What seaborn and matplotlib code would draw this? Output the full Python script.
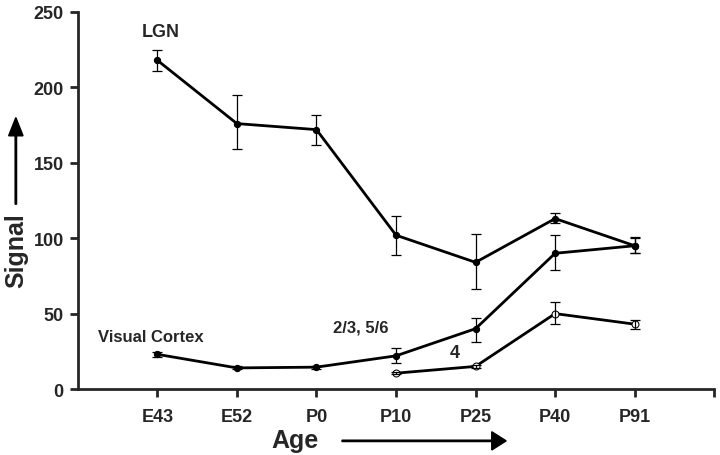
import numpy as np
import pandas as pd
import matplotlib.pyplot as plt
import seaborn as sns

ages = ['E43', 'E52', 'P0', 'P10', 'P25', 'P40', 'P91']

lgn = [218, 176, 172, 102, 84, 113, 95]
lgn_lo = [211, 159, 162, 89, 66, 110, 90]
lgn_hi = [225, 195, 182, 115, 103, 117, 100]

cortex = [23, 14, 14.5, 22, 40, 90, 95]
cortex_lo = [21.5, 13, 13.5, 17, 31, 79, 90]
cortex_hi = [24.5, 15, 15.5, 27, 47, 102, 101]

layer4_ages = ['P10', 'P25', 'P40', 'P91']
layer4 = [10.5, 15, 50, 43]
layer4_lo = [10, 14, 43, 40]
layer4_hi = [11, 16, 58, 46]

sns.set_style('ticks')
plt.rcParams['font.family'] = ['Liberation Sans', 'DejaVu Sans']
plt.rcParams['font.weight'] = 'bold'

fig = plt.figure(figsize=(7.2, 4.56), dpi=100)
ax = fig.add_axes([0.108, 0.1447, 0.884, 0.8268])

x_all = [ages.index(a) for a in ages]
x4 = [ages.index(a) for a in layer4_ages]

df = pd.concat([
    pd.DataFrame({'x': x_all, 'y': lgn, 'series': 'LGN'}),
    pd.DataFrame({'x': x_all, 'y': cortex, 'series': 'cortex'}),
])
sns.lineplot(data=df, x='x', y='y', units='series', estimator=None,
             color='black', lw=2, marker='o', markersize=4.5,
             markeredgecolor='black', ax=ax)
sns.lineplot(x=x4, y=layer4, color='black', lw=2, marker='o', markersize=5,
             markerfacecolor='white', markeredgecolor='black', ax=ax)

for xs, ys, lo, hi in [(x_all, lgn, lgn_lo, lgn_hi),
                       (x_all, cortex, cortex_lo, cortex_hi),
                       (x4, layer4, layer4_lo, layer4_hi)]:
    ys = np.array(ys)
    err = [ys - np.array(lo), np.array(hi) - ys]
    ax.errorbar(xs, ys, yerr=err, fmt='none', ecolor='black',
                elinewidth=0.9, capsize=3.5, capthick=0.9)

ax.set_xlim(-1, 7)
ax.set_ylim(0, 250)
ax.set_xticks(range(0, 8))
ax.set_xticklabels(ages + [''])
ax.set_yticks(range(0, 251, 50))
ax.tick_params(axis='x', direction='out', length=6, width=2, labelsize=13, pad=8)
ax.tick_params(axis='y', direction='out', length=6, width=2, labelsize=13, pad=4)
for lab in ax.get_xticklabels() + ax.get_yticklabels():
    lab.set_fontweight('bold')
sns.despine(ax=ax)
ax.spines['left'].set_linewidth(2)
ax.spines['bottom'].set_linewidth(2)
ax.set_xlabel('')
ax.set_ylabel('')

ax.text(-0.2, 234, 'LGN', fontsize=13, fontweight='bold')
ax.text(-0.75, 32, 'Visual Cortex', fontsize=12, fontweight='bold')
ax.text(2.21, 38, '2/3, 5/6', fontsize=12, fontweight='bold')
ax.text(3.68, 21, '4', fontsize=13, fontweight='bold')

fig.text(0.022, 0.45, 'Signal', rotation=90, fontsize=18, fontweight='bold',
         ha='center', va='center')
fig.patches.append(plt.matplotlib.patches.FancyArrow(
    0.022, 0.55, 0, 0.19, width=0.002, head_width=0.02, head_length=0.04,
    color='black', transform=fig.transFigure, length_includes_head=True))
fig.text(0.41, 0.033, 'Age', fontsize=18, fontweight='bold',
         ha='center', va='center')
fig.patches.append(plt.matplotlib.patches.FancyArrow(
    0.475, 0.031, 0.228, 0, width=0.003, head_width=0.04, head_length=0.02,
    color='black', transform=fig.transFigure, length_includes_head=True))

plt.savefig('out.png', dpi=100)
